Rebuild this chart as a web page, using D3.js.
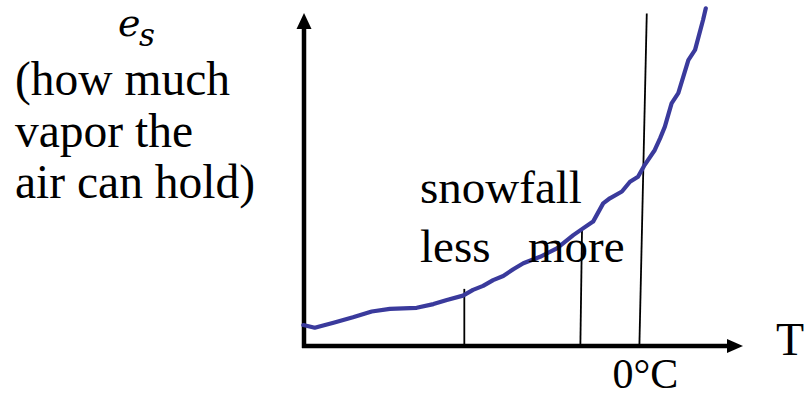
<!DOCTYPE html>
<html>
<head>
<meta charset="utf-8">
<script src="https://cdn.jsdelivr.net/npm/d3@7"></script>
<style>
  body { margin: 0; background: #fff; }
  text { font-family: "Liberation Serif", "Times New Roman", serif; fill: #000; }
</style>
</head>
<body>
<svg id="chart" width="804" height="399"></svg>
<script>
// saturation vapour pressure curve (temperature in °C, e_s in arbitrary units)
const tempC = [-50.1, -48.4, -45.6, -42.7, -39.9, -37.2, -33.2, -30.7, -28.7, -26.3, -24.8, -23.3,
  -21.8, -20.3, -18.8, -17.3, -14.8, -12.3, -9.85, -8.4, -6.9, -5.4, -4.4, -2.6, -1.4, -0.2,
  0.8, 2.3, 3.1, 3.8, 4.8, 5.8, 7.3, 8.3, 9.5, 9.9];
const esValues = [6.2, 5.4, 6.9, 8.5, 10.2, 11.0, 11.3, 12.4, 13.6, 14.9, 16.6, 17.8,
  19.5, 20.7, 22.7, 24.5, 26.4, 28.9, 32.8, 34.8, 36.8, 42.2, 43.7, 45.7, 48.6, 50.1,
  53.6, 58.0, 61.5, 64.9, 71.8, 74.8, 84.6, 87.6, 96.5, 99.9];

// vertical marker lines: bottom temp, top temp, top e_s
const markerBottomT = [-26.1, -8.8, 0];
const markerTopT = [-26.1, -8.55, 1.1];
const markerTopEs = [16.9, 34.9, 98.4];

const yLabelLines = ['(how much', 'vapor the', 'air can hold)'];

const svg = d3.select('#chart');

const x = d3.scaleLinear().domain([-50, 15]).range([304, 740]);
const y = d3.scaleLinear().domain([0, 100]).range([346, 8]);

// axes (plain arrows, no ticks)
const axisColor = '#000';
svg.append('line')
  .attr('x1', x.range()[0]).attr('y1', y(0) + 2)
  .attr('x2', x.range()[0]).attr('y2', 27)
  .attr('stroke', axisColor).attr('stroke-width', 4.5);
svg.append('path')
  .attr('d', `M${x.range()[0]},13 L${x.range()[0] - 7.5},29 L${x.range()[0] + 7.5},29 Z`)
  .attr('fill', axisColor);

svg.append('line')
  .attr('x1', x.range()[0] - 2).attr('y1', y(0))
  .attr('x2', 729).attr('y2', y(0))
  .attr('stroke', axisColor).attr('stroke-width', 4.5);
svg.append('path')
  .attr('d', `M743,${y(0)} L727,${y(0) - 7} L727,${y(0) + 7} Z`)
  .attr('fill', axisColor);

// marker lines
svg.selectAll('line.marker')
  .data(markerBottomT)
  .join('line')
  .attr('class', 'marker')
  .attr('x1', d => x(d))
  .attr('y1', y(0))
  .attr('x2', (d, i) => x(markerTopT[i]))
  .attr('y2', (d, i) => y(markerTopEs[i]))
  .attr('stroke', '#000')
  .attr('stroke-width', 1.8);

// the curve
const pts = tempC.map((t, i) => [t, esValues[i]]);
const line = d3.line()
  .x(d => x(d[0]))
  .y(d => y(d[1]))
  .curve(d3.curveLinear);

svg.append('path')
  .datum(pts)
  .attr('d', line)
  .attr('fill', 'none')
  .attr('stroke', '#3a3a9c')
  .attr('stroke-width', 4.2)
  .attr('stroke-linejoin', 'round')
  .attr('stroke-linecap', 'round');

// y label: e_s
const es = svg.append('text')
  .attr('x', 118).attr('y', 35.5)
  .style('font-family', '"DejaVu Serif", serif')
  .attr('font-style', 'italic');
es.append('tspan').attr('font-size', 38).text('e');
es.append('tspan').attr('font-size', 31)
  .attr('x', 139).attr('y', 46).text('s');

svg.selectAll('text.ylab')
  .data(yLabelLines)
  .join('text')
  .attr('class', 'ylab')
  .attr('x', 15)
  .attr('y', (d, i) => 95 + i * 51.5)
  .attr('font-size', 47.5)
  .text(d => d);

// annotations
svg.append('text').attr('x', 420).attr('y', 203).attr('font-size', 47).text('snowfall');
svg.append('text').attr('x', 420).attr('y', 262).attr('font-size', 47).text('less');
svg.append('text').attr('x', 528).attr('y', 262).attr('font-size', 47).text('more');
svg.append('text').attr('x', 776).attr('y', 355).attr('font-size', 46).text('T');
svg.append('text').attr('x', x(0) - 27).attr('y', 388).attr('font-size', 42).text('0°C');
</script>
</body>
</html>
